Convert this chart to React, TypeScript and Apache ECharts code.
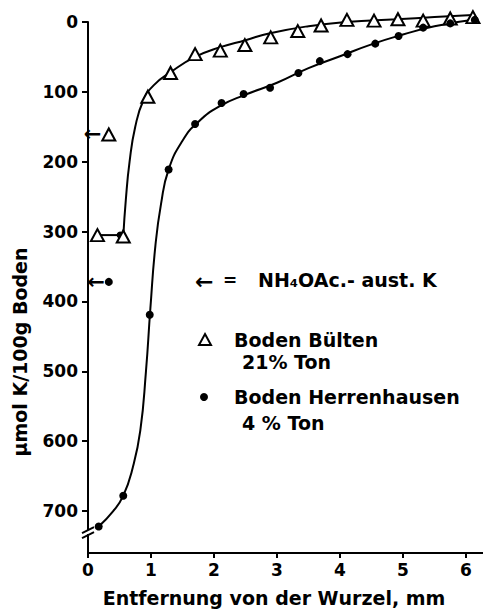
import React, { useEffect, useRef } from "react";
import * as echarts from "echarts";

// ---- data ----
const xTicks = [0, 1, 2, 3, 4, 5, 6];
const yTicks = [0, 100, 200, 300, 400, 500, 600, 700];

// Boden Bülten (triangles)
const bueltenPoints: number[][] = [
  [0.15, 305], [0.56, 307], [0.95, 107], [1.31, 73], [1.70, 46], [2.10, 41],
  [2.49, 33], [2.90, 22], [3.33, 13], [3.70, 5], [4.11, -3], [4.54, -2],
  [4.92, -4], [5.32, -2], [5.75, -5], [6.11, -7],
];
// Boden Herrenhausen (dots)
const herrenPoints: number[][] = [
  [0.17, 722], [0.56, 678], [0.98, 419], [1.28, 211], [1.70, 146], [2.12, 116],
  [2.47, 103], [2.89, 94], [3.34, 73], [3.68, 56], [4.12, 46], [4.56, 31],
  [4.93, 20], [5.32, 8], [5.75, 2], [6.14, -3],
];
// fitted curves
const bueltenPlateau: number[][] = [[0.15, 305], [0.56, 305]];
const bueltenCurve: number[][] = [
  [0.56, 307], [0.60, 255], [0.66, 200], [0.75, 150], [0.88, 112],
  [1.05, 90], [1.31, 72], [1.70, 50], [2.1, 36], [2.5, 26], [2.89, 16],
  [3.5, 6], [4.1, 0], [4.9, -4], [5.5, -7], [6.11, -10],
];
const herrenCurve: number[][] = [
  [0.17, 722], [0.40, 700], [0.56, 678], [0.71, 638], [0.83, 585],
  [0.92, 500], [0.99, 410], [1.07, 320], [1.16, 260], [1.28, 211],
  [1.50, 170], [1.75, 143], [2.1, 120], [2.5, 104], [3.0, 87], [3.5, 66],
  [4.0, 49], [4.5, 32], [5.0, 18], [5.5, 6], [6.17, -4],
];
// NH4OAc-exchangeable K (arrows)
const nh4oacBuelten: number[][] = [[0.33, 161]];
const nh4oacHerren: number[][] = [[0.33, 372]];
// extra dot at the plateau end
const junction: number[][] = [[0.51, 305]];

const FONT = "DejaVu Sans";
const BLACK = "#000";

export default function App() {
  const ref = useRef<HTMLDivElement>(null);

  useEffect(() => {
    if (!ref.current) return;
    const chart = echarts.init(ref.current, null, { renderer: "svg" });

    const triStyle = { color: "#fff", borderColor: BLACK, borderWidth: 2, opacity: 1 };
    const dotStyle = { color: BLACK, opacity: 1 };
    const lineCommon = {
      type: "line" as const,
      showSymbol: false,
      symbol: "none",
      clip: false,
      lineStyle: { color: BLACK, width: 2 },
      z: 2,
      silent: true,
    };

    const labelFont = {
      color: BLACK,
      fontFamily: FONT,
      fontWeight: "bold" as const,
      fontSize: 17,
    };

    const textG = (text: string, x: number, y: number, size: number, align = "left", extra: any = {}) => ({
      type: "text",
      x,
      y,
      ...extra,
      style: {
        text,
        fill: BLACK,
        font: `bold ${size}px "${FONT}"`,
        align,
        verticalAlign: "middle",
      },
    });

    const baseGraphic: any[] = [
      textG("µmol K/100g Boden", 20, 352, 19, "center", { rotation: Math.PI / 2 }),
      textG("Entfernung von der Wurzel, mm", 274, 598, 19, "center"),
      textG("←", 195, 281, 22),
      textG("=", 223, 280, 17),
      textG("NH₄OAc.- aust. K", 258, 280, 19),
      {
        type: "polygon",
        shape: { points: [[205, 334], [211, 345], [199, 345]] },
        style: { fill: "#fff", stroke: BLACK, lineWidth: 2 },
      },
      textG("Boden Bülten", 234, 340, 19),
      textG("21% Ton", 242, 362, 19),
      { type: "circle", shape: { cx: 204, cy: 397, r: 4 }, style: { fill: BLACK } },
      textG("Boden Herrenhausen", 234, 397, 19),
      textG("4 % Ton", 242, 423, 19),
    ];

    chart.setOption({
      animation: false,
      backgroundColor: "#fff",
      grid: { left: 88, right: 0, top: 22, bottom: 56, containLabel: false },
      xAxis: {
        type: "value",
        min: 0,
        max: 6.27,
        interval: 1,
        splitLine: { show: false },
        axisLine: { onZero: false, lineStyle: { color: BLACK, width: 2 } },
        axisTick: { length: 5, customValues: xTicks, lineStyle: { color: BLACK, width: 2 } },
        axisLabel: { ...labelFont, margin: 8, customValues: xTicks },
      },
      yAxis: {
        type: "value",
        inverse: true,
        min: 0,
        max: 760,
        interval: 100,
        splitLine: { show: false },
        axisLine: { onZero: false, lineStyle: { color: BLACK, width: 2 } },
        axisTick: { length: 6, customValues: yTicks, lineStyle: { color: BLACK, width: 2 } },
        axisLabel: { ...labelFont, margin: 10, customValues: yTicks },
      },
      series: [
        { ...lineCommon, name: "Bülten Plateau", data: bueltenPlateau, smooth: false },
        { ...lineCommon, name: "Bülten Kurve", data: bueltenCurve, smooth: 0.5 },
        { ...lineCommon, name: "Herrenhausen Kurve", data: herrenCurve, smooth: 0.5 },
        {
          type: "scatter",
          name: "Boden Bülten",
          data: bueltenPoints,
          symbol: "triangle",
          symbolSize: [13, 12],
          itemStyle: triStyle,
          clip: false,
          z: 5,
        },
        {
          type: "scatter",
          name: "Boden Herrenhausen",
          data: herrenPoints,
          symbol: "circle",
          symbolSize: 8,
          itemStyle: dotStyle,
          clip: false,
          z: 5,
        },
        {
          type: "scatter",
          name: "Knoten",
          data: junction,
          symbol: "circle",
          symbolSize: 7,
          itemStyle: dotStyle,
          clip: false,
          z: 4,
        },
        {
          type: "scatter",
          name: "NH4OAc-aust. K",
          clip: false,
          z: 5,
          label: {
            show: true,
            position: "left",
            distance: 0,
            formatter: "←",
            color: BLACK,
            fontFamily: FONT,
            fontWeight: "bold",
            fontSize: 21,
          },
          data: [
            ...nh4oacBuelten.map((v) => ({
              value: v,
              symbol: "triangle",
              symbolSize: [13, 12],
              itemStyle: triStyle,
            })),
            ...nh4oacHerren.map((v) => ({
              value: v,
              symbol: "circle",
              symbolSize: 8,
              itemStyle: dotStyle,
            })),
          ],
        },
      ],
      graphic: baseGraphic,
    });

    // axis break marks on the y axis, placed through the axis scale
    const yb = chart.convertToPixel({ yAxisIndex: 0 }, 730) as number;
    const ax = chart.convertToPixel({ xAxisIndex: 0 }, 0) as number;
    chart.setOption({
      graphic: [
        ...baseGraphic,
        {
          type: "rect",
          shape: { x: ax - 3, y: yb - 2, width: 6, height: 4 },
          style: { fill: "#fff" },
          z: 10,
        },
        {
          type: "line",
          shape: { x1: ax - 6, y1: yb + 1, x2: ax + 6, y2: yb - 5 },
          style: { stroke: BLACK, lineWidth: 2 },
          z: 11,
        },
        {
          type: "line",
          shape: { x1: ax - 6, y1: yb + 6, x2: ax + 6, y2: yb },
          style: { stroke: BLACK, lineWidth: 2 },
          z: 11,
        },
      ],
    });

    return () => chart.dispose();
  }, []);

  return (
    <div
      ref={ref}
      style={{ position: "fixed", left: 0, top: 0, width: 483, height: 609, background: "#fff" }}
    />
  );
}
